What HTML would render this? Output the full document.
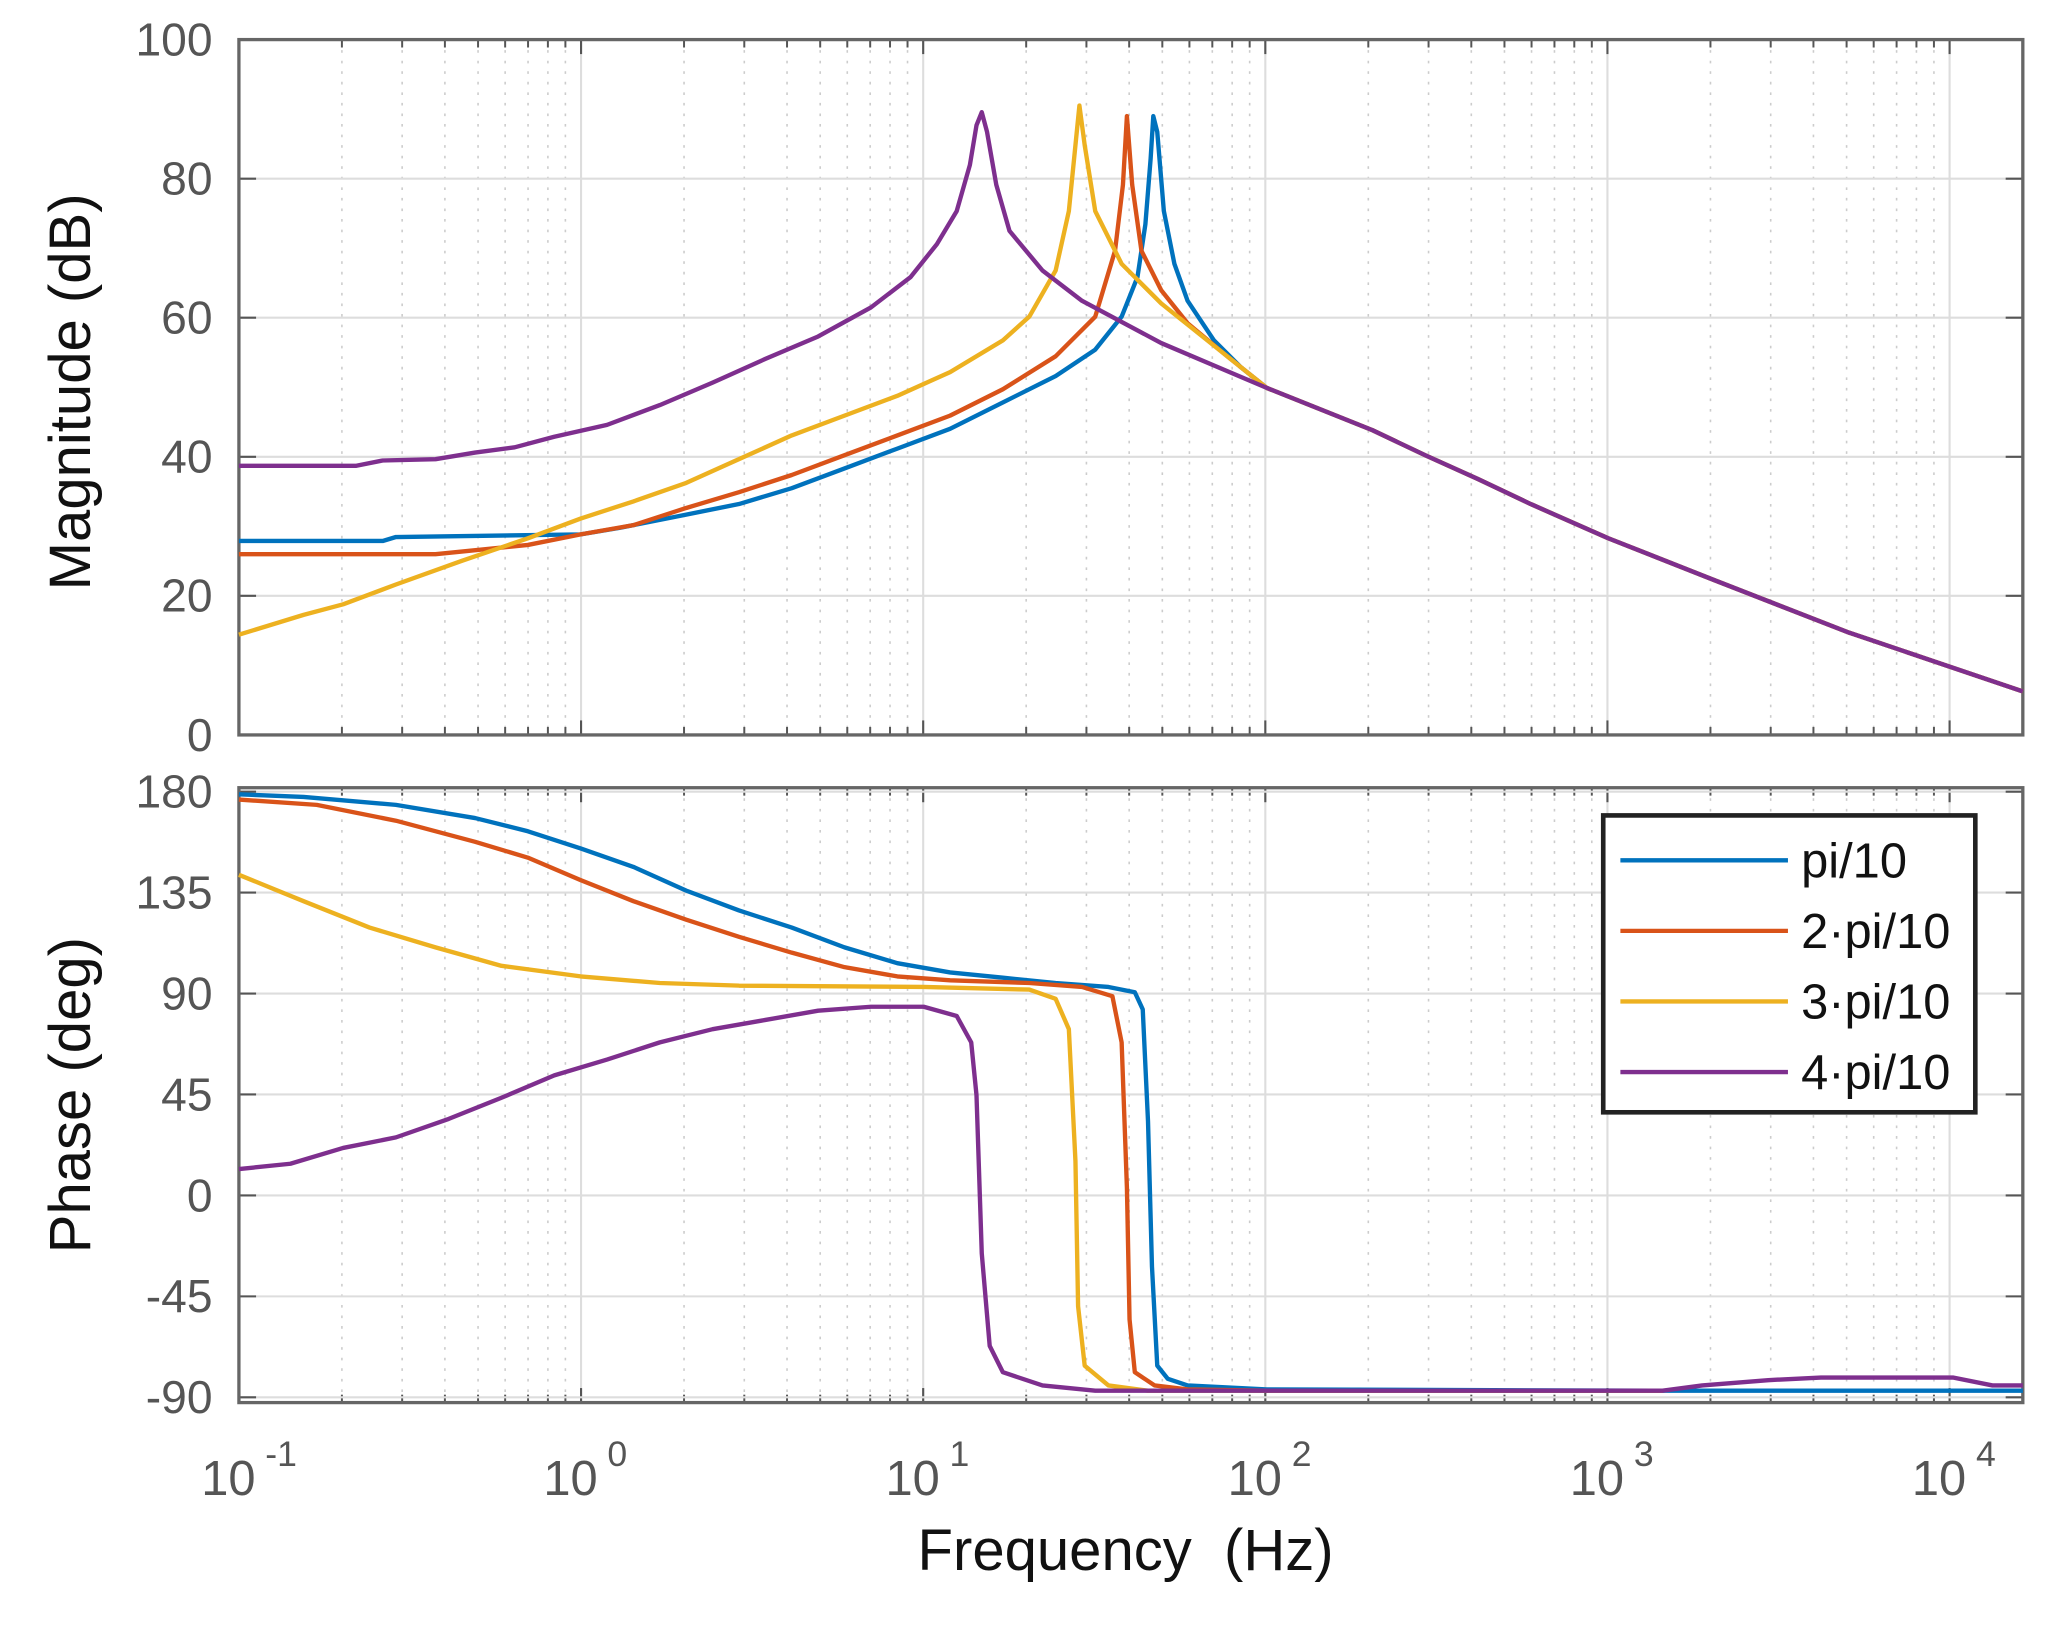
<!DOCTYPE html><html><head><meta charset="utf-8"><style>html,body{margin:0;padding:0;background:#fff}svg{display:block}</style></head><body>
<svg xmlns="http://www.w3.org/2000/svg" width="2070" height="1626" viewBox="0 0 1553 1220" font-family="Liberation Sans, sans-serif"><g id="s" transform="scale(0.99)"></g></svg>
<script>
const s=document.getElementById('s');let h='';
const L=181,R=1533,D=259.3;const px=e=>L+D*(e+1);
const P=[[30,557],[597,1063]];
P.forEach(([t,b])=>{for(let e=-1;e<=4;e++){for(let k=2;k<=9;k++){const x=px(e+Math.log10(k));if(x<R)h+=`<line x1="${x}" y1="${t}" x2="${x}" y2="${b}" stroke="#ccc" stroke-width="1.2" stroke-dasharray="2,6"/><line x1="${x}" y1="${t}" x2="${x}" y2="${t+6}" stroke="#555" stroke-width="1.5"/><line x1="${x}" y1="${b}" x2="${x}" y2="${b-6}" stroke="#555" stroke-width="1.5"/>`;}
const x=px(e);h+=`<line x1="${x}" y1="${t}" x2="${x}" y2="${b}" stroke="#ddd" stroke-width="1.6"/><line x1="${x}" y1="${t}" x2="${x}" y2="${t+11}" stroke="#555" stroke-width="1.6"/><line x1="${x}" y1="${b}" x2="${x}" y2="${b-11}" stroke="#555" stroke-width="1.6"/>`;}});
for(let d=0;d<=100;d+=20){const y=557-5.27*d;h+=`<line x1="${L}" y1="${y}" x2="${R}" y2="${y}" stroke="#ddd" stroke-width="1.6"/><line x1="${L}" y1="${y}" x2="${L+13}" y2="${y}" stroke="#555" stroke-width="1.6"/><line x1="${R}" y1="${y}" x2="${R-13}" y2="${y}" stroke="#555" stroke-width="1.6"/><text x="161" y="${y+12}" font-size="35" fill="#555" text-anchor="end">${d}</text>`;}
for(let d=180;d>=-90;d-=45){const y=600+(180-d)*1.7;h+=`<line x1="${L}" y1="${y}" x2="${R}" y2="${y}" stroke="#ddd" stroke-width="1.6"/><line x1="${L}" y1="${y}" x2="${L+13}" y2="${y}" stroke="#555" stroke-width="1.6"/><line x1="${R}" y1="${y}" x2="${R-13}" y2="${y}" stroke="#555" stroke-width="1.6"/><text x="161" y="${y+12}" font-size="35" fill="#555" text-anchor="end">${d}</text>`;}
P.forEach(([t,b])=>{h+=`<rect x="${L}" y="${t}" width="${R-L}" height="${b-t}" fill="none" stroke="#666" stroke-width="2.5"/>`;});
for(let e=-1;e<=4;e++){const x=px(e);h+=`<text x="${x-8}" y="1133" font-size="37" fill="#555" text-anchor="middle">10</text><text x="${x+20}" y="1111" font-size="27" fill="#555">${e}</text>`;}
h+=`<text x="853" y="1190" font-size="44" fill="#111" text-anchor="middle" xml:space="preserve">Frequency  (Hz)</text>`;
h+=`<text transform="translate(68,297) rotate(-90)" font-size="44" fill="#111" text-anchor="middle">Magnitude (dB)</text>`;
h+=`<text transform="translate(68,830) rotate(-90)" font-size="44" fill="#111" text-anchor="middle">Phase (deg)</text>`;
const tail=[[960,294],[1000,310],[1040,326],[1080,345],[1120,363],[1160,382],[1219,408],[1300,440],[1400,479],[1533,524]];
const C={b:'#0072BD',o:'#D95319',y:'#EDB120',p:'#7E2F8E'};
const M={
b:[[181,410],[290,410],[300,407],[440,405],[470,400],[520,390],[560,382],[600,370],[640,355],[680,340],[720,325],[760,305],[800,285],[830,265],[850,240],[862,210],[868,170],[872,120],[874,88],[877,100],[882,160],[890,200],[900,228],[920,258],[940,278]],
o:[[181,420],[330,420],[400,413],[440,405],[480,398],[520,385],[560,373],[600,360],[640,345],[680,330],[720,315],[760,295],[800,270],[830,240],[845,190],[851,140],[854,88],[858,140],[865,190],[880,220],[900,245],[930,270]],
y:[[181,481],[230,466],[260,458],[300,443],[350,425],[400,408],[440,393],[480,380],[520,366],[560,348],[600,330],[640,315],[680,300],[720,282],[760,258],[780,240],[800,205],[810,160],[815,110],[818,80],[822,110],[830,160],[850,200],[880,230],[920,262]],
p:[[181,353],[270,353],[290,349],[330,348],[360,343],[390,339],[420,331],[460,322],[500,307],[540,290],[580,272],[620,255],[660,233],[690,210],[710,185],[725,160],[735,125],[740,95],[744,85],[748,100],[755,140],[765,175],[790,205],[820,228],[850,244],[880,260],[920,277]]};
const Ph={
b:[[181,602],[230,604],[300,610],[360,620],[400,630],[440,643],[480,657],[520,675],[560,690],[600,703],[640,718],[680,730],[720,737],[760,741],[800,745],[840,748],[860,752],[866,765],[870,850],[873,960],[877,1035],[885,1045],[900,1050],[960,1053],[1260,1054],[1533,1054]],
o:[[181,606],[240,610],[300,622],[360,638],[400,650],[440,667],[480,683],[520,697],[560,710],[600,722],[640,733],[680,740],[720,743],[780,745],[820,748],[843,755],[850,790],[854,900],[856,1000],[860,1040],[875,1050],[900,1053],[960,1054],[1260,1054]],
y:[[181,663],[230,683],[280,703],[330,718],[380,732],[440,740],[500,745],[560,747],[700,748],[780,750],[800,757],[810,780],[815,880],[817,990],[822,1035],[840,1050],[870,1054],[960,1054],[1260,1054]],
p:[[181,886],[220,882],[260,870],[300,862],[340,848],[380,832],[420,815],[460,803],[500,790],[540,780],[580,773],[620,766],[660,763],[700,763],[725,770],[736,790],[740,830],[744,950],[750,1020],[760,1040],[790,1050],[830,1054],[1260,1054],[1290,1050],[1340,1046],[1380,1044],[1480,1044],[1510,1050],[1533,1050]]};
const pl=(a,c)=>`<polyline points="${a.map(p=>p.join(',')).join(' ')}" fill="none" stroke="${c}" stroke-width="3.3" stroke-linejoin="round"/>`;
['b','o','y','p'].forEach(k=>{h+=pl(M[k].concat(tail),C[k]);});
['b','o','y','p'].forEach(k=>{h+=pl(Ph[k],C[k]);});
h+=`<rect x="1215" y="618" width="282" height="225" fill="#fff" stroke="#222" stroke-width="3.5"/>`;
const lab=['pi/10','2·pi/10','3·pi/10','4·pi/10'];['b','o','y','p'].forEach((k,i)=>{const y=652+i*53.5;h+=`<line x1="1228" y1="${y}" x2="1355" y2="${y}" stroke="${C[k]}" stroke-width="3.3"/><text x="1365" y="${y+13}" font-size="37" fill="#111">${lab[i]}</text>`;});
s.innerHTML=h;
</script></body></html>
